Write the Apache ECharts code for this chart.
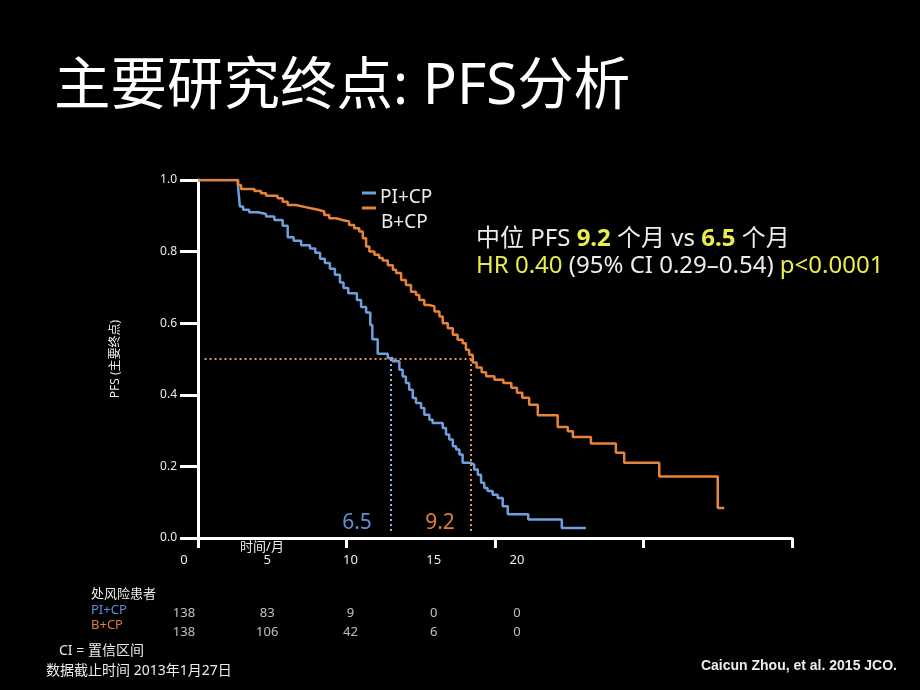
<!DOCTYPE html>
<html><head><meta charset="utf-8">
<script src="https://cdn.jsdelivr.net/npm/echarts@6/dist/echarts.min.js"></script>
<style>html,body{margin:0;padding:0;background:#000}#c{width:920px;height:690px}</style>
</head><body><div id="c"></div>
<script>
// ---- data ----
const piCP = [[0,1.0],[1.35,0.98],[1.41,0.926],[1.52,0.917],[1.72,0.91],[2.02,0.905],[2.29,0.898],[2.57,0.888],[2.85,0.872],[3.02,0.840],[3.22,0.830],[3.47,0.818],[3.77,0.809],[3.95,0.797],[4.11,0.780],[4.27,0.768],[4.44,0.752],[4.61,0.735],[4.78,0.714],[4.90,0.698],[5.06,0.684],[5.35,0.665],[5.49,0.645],[5.66,0.630],[5.80,0.595],[5.87,0.555],[6.05,0.515],[6.39,0.503],[6.55,0.494],[6.78,0.470],[6.89,0.451],[7.00,0.433],[7.11,0.414],[7.23,0.391],[7.34,0.377],[7.51,0.363],[7.62,0.344],[7.79,0.330],[7.90,0.321],[8.24,0.307],[8.35,0.289],[8.46,0.275],[8.58,0.256],[8.69,0.247],[8.80,0.233],[8.91,0.210],[9.19,0.205],[9.30,0.191],[9.42,0.177],[9.53,0.154],[9.64,0.140],[9.75,0.131],[9.92,0.121],[10.09,0.112],[10.26,0.089],[10.43,0.066],[11.12,0.052],[12.25,0.028],[13.06,0.028]];
const bCP = [[0,1.0],[1.34,0.986],[1.45,0.975],[1.90,0.969],[2.12,0.963],[2.29,0.956],[2.68,0.949],[2.85,0.939],[3.02,0.930],[3.30,0.925],[3.58,0.921],[3.80,0.916],[4.08,0.912],[4.25,0.902],[4.42,0.893],[4.65,0.888],[4.87,0.884],[5.09,0.874],[5.26,0.865],[5.43,0.856],[5.55,0.837],[5.66,0.814],[5.77,0.800],[5.94,0.791],[6.10,0.782],[6.22,0.775],[6.39,0.762],[6.56,0.749],[6.67,0.740],[6.84,0.721],[7.00,0.707],[7.17,0.688],[7.34,0.679],[7.45,0.665],[7.62,0.651],[7.79,0.647],[7.96,0.633],[8.13,0.619],[8.24,0.600],[8.41,0.586],[8.58,0.568],[8.74,0.554],[8.91,0.544],[9.02,0.526],[9.13,0.512],[9.25,0.490],[9.38,0.476],[9.55,0.463],[9.70,0.452],[9.98,0.442],[10.28,0.433],[10.55,0.420],[10.74,0.406],[10.92,0.392],[11.15,0.372],[11.44,0.343],[12.11,0.310],[12.45,0.298],[12.62,0.282],[13.23,0.264],[14.07,0.238],[14.35,0.210],[15.53,0.172],[17.50,0.084],[17.72,0.084]];
const medianMonths = [6.5, 9.2];          // PI+CP, B+CP
const riskTimes = [0, 5, 10, 15, 20];
const riskPI = [138, 83, 9, 0, 0];
const riskB = [138, 106, 42, 6, 0];
const seriesNames = ['PI+CP', 'B+CP'];

const FONT = '"Noto Sans", "Noto Sans CJK SC", sans-serif';
const BLUE = '#6f9fdc', ORANGE = '#e8843a', YELLOW = '#ecec4e', TXT = '#ececec';

const riskData = [];
riskTimes.forEach((t, i) => {
  riskData.push([t, seriesNames[0], riskPI[i]]);
  riskData.push([t, seriesNames[1], riskB[i]]);
});

const chart = echarts.init(document.getElementById('c'));
const option = {
  backgroundColor: '#000',
  animation: false,
  title: {text: '主要研究终点: PFS分析', left: 54, top: 60, padding: 0,
    textStyle: {color: '#fff', fontSize: 56.5, fontWeight: 'normal', fontFamily: FONT}},
  grid: [
    {left: 198, top: 180, width: 594, height: 358},
    {left: 184, top: 604, width: 333, height: 38}
  ],
  xAxis: [
    {gridIndex: 0, type: 'value', min: 0, max: 20, interval: 5,
      axisLine: {lineStyle: {color: '#fff', width: 3}},
      axisTick: {length: 10, lineStyle: {color: '#fff', width: 3}},
      axisLabel: {show: false}, splitLine: {show: false}},
    {gridIndex: 1, type: 'value', min: 0, max: 20, interval: 5, position: 'top',
      axisLine: {show: false}, axisTick: {show: false}, splitLine: {show: false},
      axisLabel: {color: TXT, fontSize: 13, fontFamily: FONT, margin: 37}}
  ],
  yAxis: [
    {gridIndex: 0, type: 'value', min: 0, max: 1, interval: 0.2,
      name: 'PFS (主要终点)', nameLocation: 'middle', nameGap: 76, nameRotate: 90,
      nameTextStyle: {color: TXT, fontSize: 12, fontFamily: FONT},
      axisLine: {show: true, lineStyle: {color: '#fff', width: 3}},
      axisTick: {show: true, length: 18, lineStyle: {color: '#fff', width: 3}},
      axisLabel: {color: TXT, fontSize: 12, fontFamily: FONT, margin: 21, formatter: v => v.toFixed(1)},
      splitLine: {show: false}},
    {gridIndex: 1, type: 'category', data: seriesNames, inverse: true, show: false}
  ],
  series: [
    {name: seriesNames[0], type: 'line', xAxisIndex: 0, yAxisIndex: 0, data: piCP, step: 'end',
      symbol: 'none', lineStyle: {color: BLUE, width: 2.5}, z: 3,
      markLine: {silent: true, symbol: ['none', 'none'], label: {show: false},
        lineStyle: {color: '#8fb4e4', type: [2, 3], width: 2},
        data: [[{coord: [medianMonths[0], 0.5]}, {coord: [medianMonths[0], 0.015]}]]}},
    {name: seriesNames[1], type: 'line', xAxisIndex: 0, yAxisIndex: 0, data: bCP, step: 'end',
      symbol: 'none', lineStyle: {color: ORANGE, width: 2.5}, z: 4,
      markLine: {silent: true, symbol: ['none', 'none'], label: {show: false},
        lineStyle: {color: '#e8925a', type: [2, 3], width: 2},
        data: [
          [{coord: [0.22, 0.5]}, {coord: [medianMonths[1], 0.5]}],
          [{coord: [medianMonths[1], 0.5]}, {coord: [medianMonths[1], 0.015]}]
        ]}},
    {type: 'scatter', xAxisIndex: 1, yAxisIndex: 1, data: riskData, symbolSize: 1,
      itemStyle: {color: 'rgba(0,0,0,0)'},
      label: {show: true, position: 'inside', formatter: p => p.value[2], color: TXT, fontSize: 13, fontFamily: FONT}}
  ],
  graphic: [
    {type: 'text', x: 262, y: 547, style: {text: '时间/月', fill: TXT, font: '13px ' + FONT, textAlign: 'center', textVerticalAlign: 'middle'}},
    {type: 'text', x: 357, y: 523, style: {text: medianMonths[0].toFixed(1), fill: '#5e90d2', font: '21px ' + FONT, textAlign: 'center', textVerticalAlign: 'middle'}},
    {type: 'text', x: 440, y: 523, style: {text: medianMonths[1].toFixed(1), fill: '#e07b3a', font: '21px ' + FONT, textAlign: 'center', textVerticalAlign: 'middle'}},
    // legend
    {type: 'line', shape: {x1: 362, y1: 193, x2: 376, y2: 193}, style: {stroke: BLUE, lineWidth: 3}},
    {type: 'line', shape: {x1: 362, y1: 208, x2: 376, y2: 208}, style: {stroke: ORANGE, lineWidth: 3}},
    {type: 'text', x: 380, y: 198, style: {text: seriesNames[0], fill: TXT, font: '19px ' + FONT, textVerticalAlign: 'middle'}},
    {type: 'text', x: 381, y: 223, style: {text: seriesNames[1], fill: TXT, font: '19px ' + FONT, textVerticalAlign: 'middle'}},
    // annotation
    {type: 'text', x: 476, y: 239, style: {text: '{w|中位 PFS }{y|9.2}{w| 个月 vs }{y|6.5}{w| 个月}', textVerticalAlign: 'middle',
      rich: {w: {fill: TXT, font: '24px ' + FONT}, y: {fill: YELLOW, font: 'bold 24px ' + FONT}}}},
    {type: 'text', x: 476, y: 266, style: {text: '{y|HR 0.40 }{w|(95% CI 0.29–0.54) }{y|p<0.0001}', textVerticalAlign: 'middle',
      rich: {w: {fill: TXT, font: '24px ' + FONT}, y: {fill: YELLOW, font: '24px ' + FONT}}}},
    // risk table labels
    {type: 'text', x: 91, y: 594, style: {text: '处风险患者', fill: TXT, font: '13px ' + FONT, textVerticalAlign: 'middle'}},
    {type: 'text', x: 91, y: 610, style: {text: seriesNames[0], fill: '#5e90d2', font: '13px ' + FONT, textVerticalAlign: 'middle'}},
    {type: 'text', x: 91, y: 625, style: {text: seriesNames[1], fill: '#e07b3a', font: '13px ' + FONT, textVerticalAlign: 'middle'}},
    // footnotes
    {type: 'text', x: 59, y: 651, style: {text: 'CI = 置信区间', fill: TXT, font: '14px ' + FONT, textVerticalAlign: 'middle'}},
    {type: 'text', x: 46, y: 671, style: {text: '数据截止时间 2013年1月27日', fill: TXT, font: '14px ' + FONT, textVerticalAlign: 'middle'}},
    {type: 'text', x: 897, y: 666, style: {text: 'Caicun Zhou, et al. 2015 JCO.', fill: TXT, font: 'bold 14px "Liberation Sans", Arial, sans-serif', textAlign: 'right', textVerticalAlign: 'middle'}}
  ]
};
chart.setOption(option);
</script>
</body></html>
